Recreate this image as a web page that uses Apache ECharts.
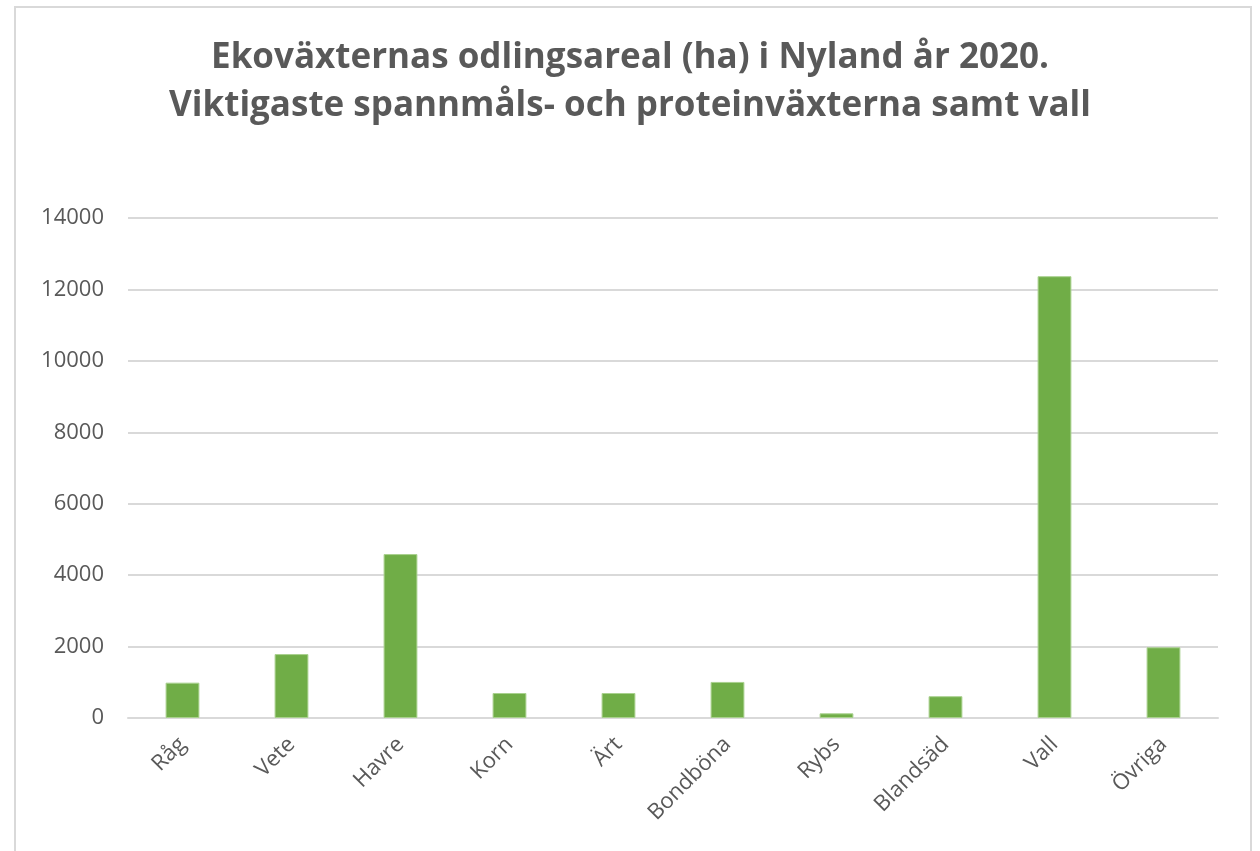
<!DOCTYPE html>
<html>
<head>
<meta charset="utf-8">
<script src="https://cdn.jsdelivr.net/npm/echarts@6/dist/echarts.min.js"></script>
<style>html,body{margin:0;padding:0;background:#fff;}#c{width:1260px;height:851px;}</style>
</head>
<body>
<div id="c"></div>
<script>
const titleLines = ["Ekoväxternas odlingsareal (ha) i Nyland år 2020.", "Viktigaste spannmåls- och proteinväxterna samt vall"];
const categories = ["Råg", "Vete", "Havre", "Korn", "Ärt", "Bondböna", "Rybs", "Blandsäd", "Vall", "Övriga"];
const values = [990, 1790, 4590, 700, 700, 1010, 130, 610, 12370, 1980];
const yTicks = { min: 0, max: 14000, interval: 2000 };

const chart = echarts.init(document.getElementById('c'));
chart.setOption({
  animation: false,
  backgroundColor: '#fff',
  title: {
    text: titleLines.join('\n'),
    left: 'center',
    top: 29,
    textStyle: { fontFamily: 'Open Sans', fontSize: 35, fontWeight: 'bold', color: '#595959', lineHeight: 48 }
  },
  graphic: [{
    type: 'polyline',
    shape: { points: [[15, 851], [15, 7], [1251, 7], [1251, 851]] },
    style: { stroke: '#d9d9d9', lineWidth: 2, fill: null }
  }],
  grid: { left: 128, right: 42, top: 218, bottom: 133, containLabel: false },
  xAxis: {
    type: 'category',
    data: categories,
    axisLine: { lineStyle: { color: '#d9d9d9', width: 2 } },
    axisTick: { show: false },
    axisLabel: { rotate: 45, color: '#595959', fontFamily: 'Open Sans', fontSize: 22, margin: 23, interval: 0 }
  },
  yAxis: {
    type: 'value',
    min: yTicks.min, max: yTicks.max, interval: yTicks.interval,
    axisLine: { show: false },
    axisTick: { show: false },
    axisLabel: { color: '#595959', fontFamily: 'Open Sans', fontSize: 22, margin: 24, formatter: function (v) { return String(v); } },
    splitLine: { lineStyle: { color: '#d9d9d9', width: 2 } }
  },
  series: [{
    type: 'bar',
    data: values,
    barWidth: '31%',
    itemStyle: { color: '#70ad47', borderColor: '#a9d18e', borderWidth: 1 }
  }]
});
</script>
</body>
</html>
